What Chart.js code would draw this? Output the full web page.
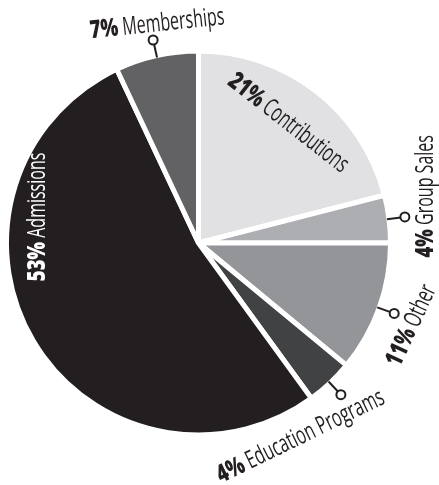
<!DOCTYPE html>
<html lang="en">
<head>
    <meta charset="UTF-8">
    <script src="https://cdn.jsdelivr.net/npm/chart.js"></script>
    <title>Revenue</title>
    <style>
        body { margin: 0; background: #fff; }
        #wrap { width: 439px; height: 485px; }
    </style>
</head>
<body>
    <div id="wrap">
        <canvas id="torta" width="439" height="485"></canvas>
    </div>
<script>
    // data, clockwise from the top
    var categorias = ['Contributions', 'Group Sales', 'Other', 'Education Programs', 'Admissions', 'Memberships'];
    var valores = [21, 4, 11, 4, 53, 7];
    var cores = ['#e1e1e3', '#adaeb1', '#939598', '#414244', '#231f20', '#626264'];
    var comPino = [false, true, true, true, false, true];

    // label placement: angle offset from slice middle (deg), radius factor, text rotation (deg)
    var rotulos = [
        { dAng: -1, rad: 0.78, rot: 38, cor: '#231f20' },
        { dAng: -4.4, rad: 1.21, rot: -90, cor: '#231f20' },
        { dAng: 1.4, rad: 1.19, rot: -65, cor: '#231f20' },
        { dAng: 15.4, rad: 1.14, rot: -26, cor: '#231f20' },
        { dAng: 39.8, rad: 0.85, rot: -90, cor: '#ffffff' },
        { dAng: 1.9, rad: 1.16, rot: -6, cor: '#231f20' }
    ];

    var tamFonte = 25;
    var escalaNome = 0.64;
    var escalaPct = 0.74;

    const rotulosPlugin = {
        id: 'rotulos',
        afterDatasetsDraw(chart) {
            const ctx = chart.ctx;
            const arcos = chart.getDatasetMeta(0).data;
            arcos.forEach(function (arco, i) {
                const cx = arco.x, cy = arco.y, r = arco.outerRadius;
                const meio = (arco.startAngle + arco.endAngle) / 2;

                // pin: short line + small circle
                if (comPino[i]) {
                    ctx.save();
                    ctx.strokeStyle = '#231f20';
                    ctx.lineWidth = 2;
                    ctx.beginPath();
                    ctx.moveTo(cx + Math.cos(meio) * (r - 2), cy + Math.sin(meio) * (r - 2));
                    ctx.lineTo(cx + Math.cos(meio) * (r + 12), cy + Math.sin(meio) * (r + 12));
                    ctx.stroke();
                    ctx.beginPath();
                    ctx.arc(cx + Math.cos(meio) * (r + 16), cy + Math.sin(meio) * (r + 16), 4.5, 0, Math.PI * 2);
                    ctx.fillStyle = '#fff';
                    ctx.fill();
                    ctx.stroke();
                    ctx.restore();
                }

                const cfg = rotulos[i];
                const ang = meio + cfg.dAng * Math.PI / 180;
                const px = cx + Math.cos(ang) * r * cfg.rad;
                const py = cy + Math.sin(ang) * r * cfg.rad;
                const pct = valores[i] + '%';
                const nome = ' ' + categorias[i];
                const fPct = '800 ' + tamFonte + 'px "Open Sans"';
                const fNome = '400 ' + tamFonte + 'px "Open Sans"';

                ctx.save();
                ctx.translate(px, py);
                ctx.rotate(cfg.rot * Math.PI / 180);
                ctx.textBaseline = 'middle';
                ctx.textAlign = 'left';
                ctx.fillStyle = cfg.cor;
                ctx.font = fPct;
                const w1 = ctx.measureText(pct).width * escalaPct;
                ctx.font = fNome;
                const w2 = ctx.measureText(nome).width * escalaNome;
                const x0 = -(w1 + w2) / 2;

                ctx.save();
                ctx.translate(x0, 0);
                ctx.scale(escalaPct, 1);
                ctx.font = fPct;
                ctx.fillText(pct, 0, 0);
                ctx.restore();

                ctx.save();
                ctx.translate(x0 + w1, 0);
                ctx.scale(escalaNome, 1);
                ctx.font = fNome;
                ctx.fillText(nome, 0, 0);
                ctx.restore();

                ctx.restore();
            });
        }
    };

    const grafico = {
        type: 'pie',
        data: {
            labels: categorias,
            datasets: [
                {
                    data: valores,
                    backgroundColor: cores,
                    borderColor: '#ffffff',
                    borderWidth: 5
                }
            ]
        },
        options: {
            responsive: false,
            animation: false,
            layout: {
                padding: { left: 4, right: 46, top: 48, bottom: 47 }
            },
            plugins: {
                legend: { display: false },
                tooltip: { enabled: false }
            }
        },
        plugins: [rotulosPlugin]
    };

    var torta = new Chart(document.getElementById('torta'), grafico);
</script>
</body>
</html>
